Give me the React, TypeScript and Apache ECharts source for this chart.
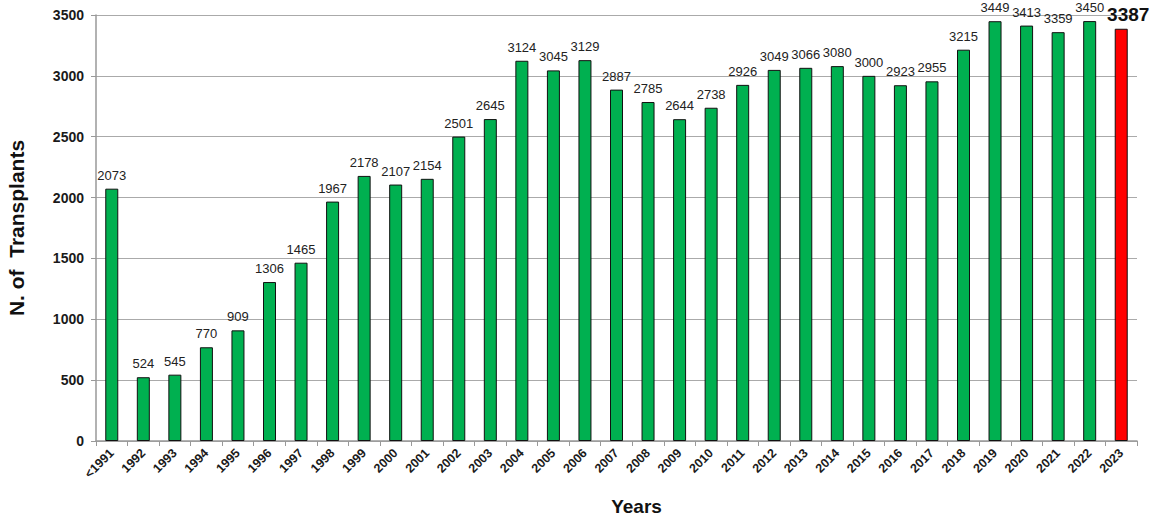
import React, { useEffect, useRef } from "react";
import * as echarts from "echarts";

const years = ["<1991","1992","1993","1994","1995","1996","1997","1998","1999","2000","2001","2002","2003","2004","2005","2006","2007","2008","2009","2010","2011","2012","2013","2014","2015","2016","2017","2018","2019","2020","2021","2022","2023"];
const transplants = [2073,524,545,770,909,1306,1465,1967,2178,2107,2154,2501,2645,3124,3045,3129,2887,2785,2644,2738,2926,3049,3066,3080,3000,2923,2955,3215,3449,3413,3359,3450,3387];
const yTicks = [0, 500, 1000, 1500, 2000, 2500, 3000, 3500];

export default function App() {
  const ref = useRef<HTMLDivElement>(null);
  useEffect(() => {
    document.body.style.margin = "0";
    const chart = echarts.init(ref.current!, null, { renderer: "svg" });
    const last = transplants.length - 1;
    chart.setOption({
      animation: false,
      backgroundColor: "#ffffff",
      textStyle: { fontFamily: "Liberation Sans, Arial, sans-serif" },
      grid: { left: 96, right: 19, top: 15, bottom: 79, containLabel: false, outerBoundsMode: "none" },
      xAxis: {
        type: "category",
        data: years,
        name: "Years",
        nameLocation: "middle",
        nameGap: 56,
        nameTextStyle: { fontSize: 19, fontWeight: "bold", color: "#111", padding: [0, 0, 0, 40] },
        axisLine: { lineStyle: { color: "#999", width: 1.5 } },
        axisTick: { show: true, length: 5, lineStyle: { color: "#999" } },
        axisLabel: { rotate: 45, fontSize: 12.5, fontWeight: "bold", color: "#1a1a1a", margin: 10, interval: 0 },
      },
      yAxis: {
        type: "value",
        min: yTicks[0],
        max: yTicks[yTicks.length - 1],
        interval: 500,
        name: "N. of  Transplants",
        nameLocation: "middle",
        nameGap: 69,
        nameTextStyle: { fontSize: 21, fontWeight: "bold", color: "#111" },
        axisLine: { show: true, lineStyle: { color: "#999", width: 1.5 } },
        axisTick: { show: true, length: 5, lineStyle: { color: "#999" } },
        axisLabel: { fontSize: 14, fontWeight: "bold", color: "#1a1a1a", margin: 12, formatter: (v: number) => String(v) },
        splitLine: { lineStyle: { color: "#aaa", width: 1 } },
      },
      series: [
        {
          type: "bar",
          barWidth: 13,
          data: transplants.map((v, i) => ({
            value: v,
            itemStyle: { color: i === last ? "#ff0000" : "#00b050", borderColor: "#111", borderWidth: 1 },
            label: i === last ? { fontSize: 19, fontWeight: "bold", color: "#111", distance: 5, offset: [7, 0] } : undefined,
          })),
          label: { show: true, position: "top", fontSize: 13, color: "#222", distance: 7 },
        },
      ],
    });
    return () => chart.dispose();
  }, []);
  return <div ref={ref} style={{ width: 1156, height: 520 }} />;
}
